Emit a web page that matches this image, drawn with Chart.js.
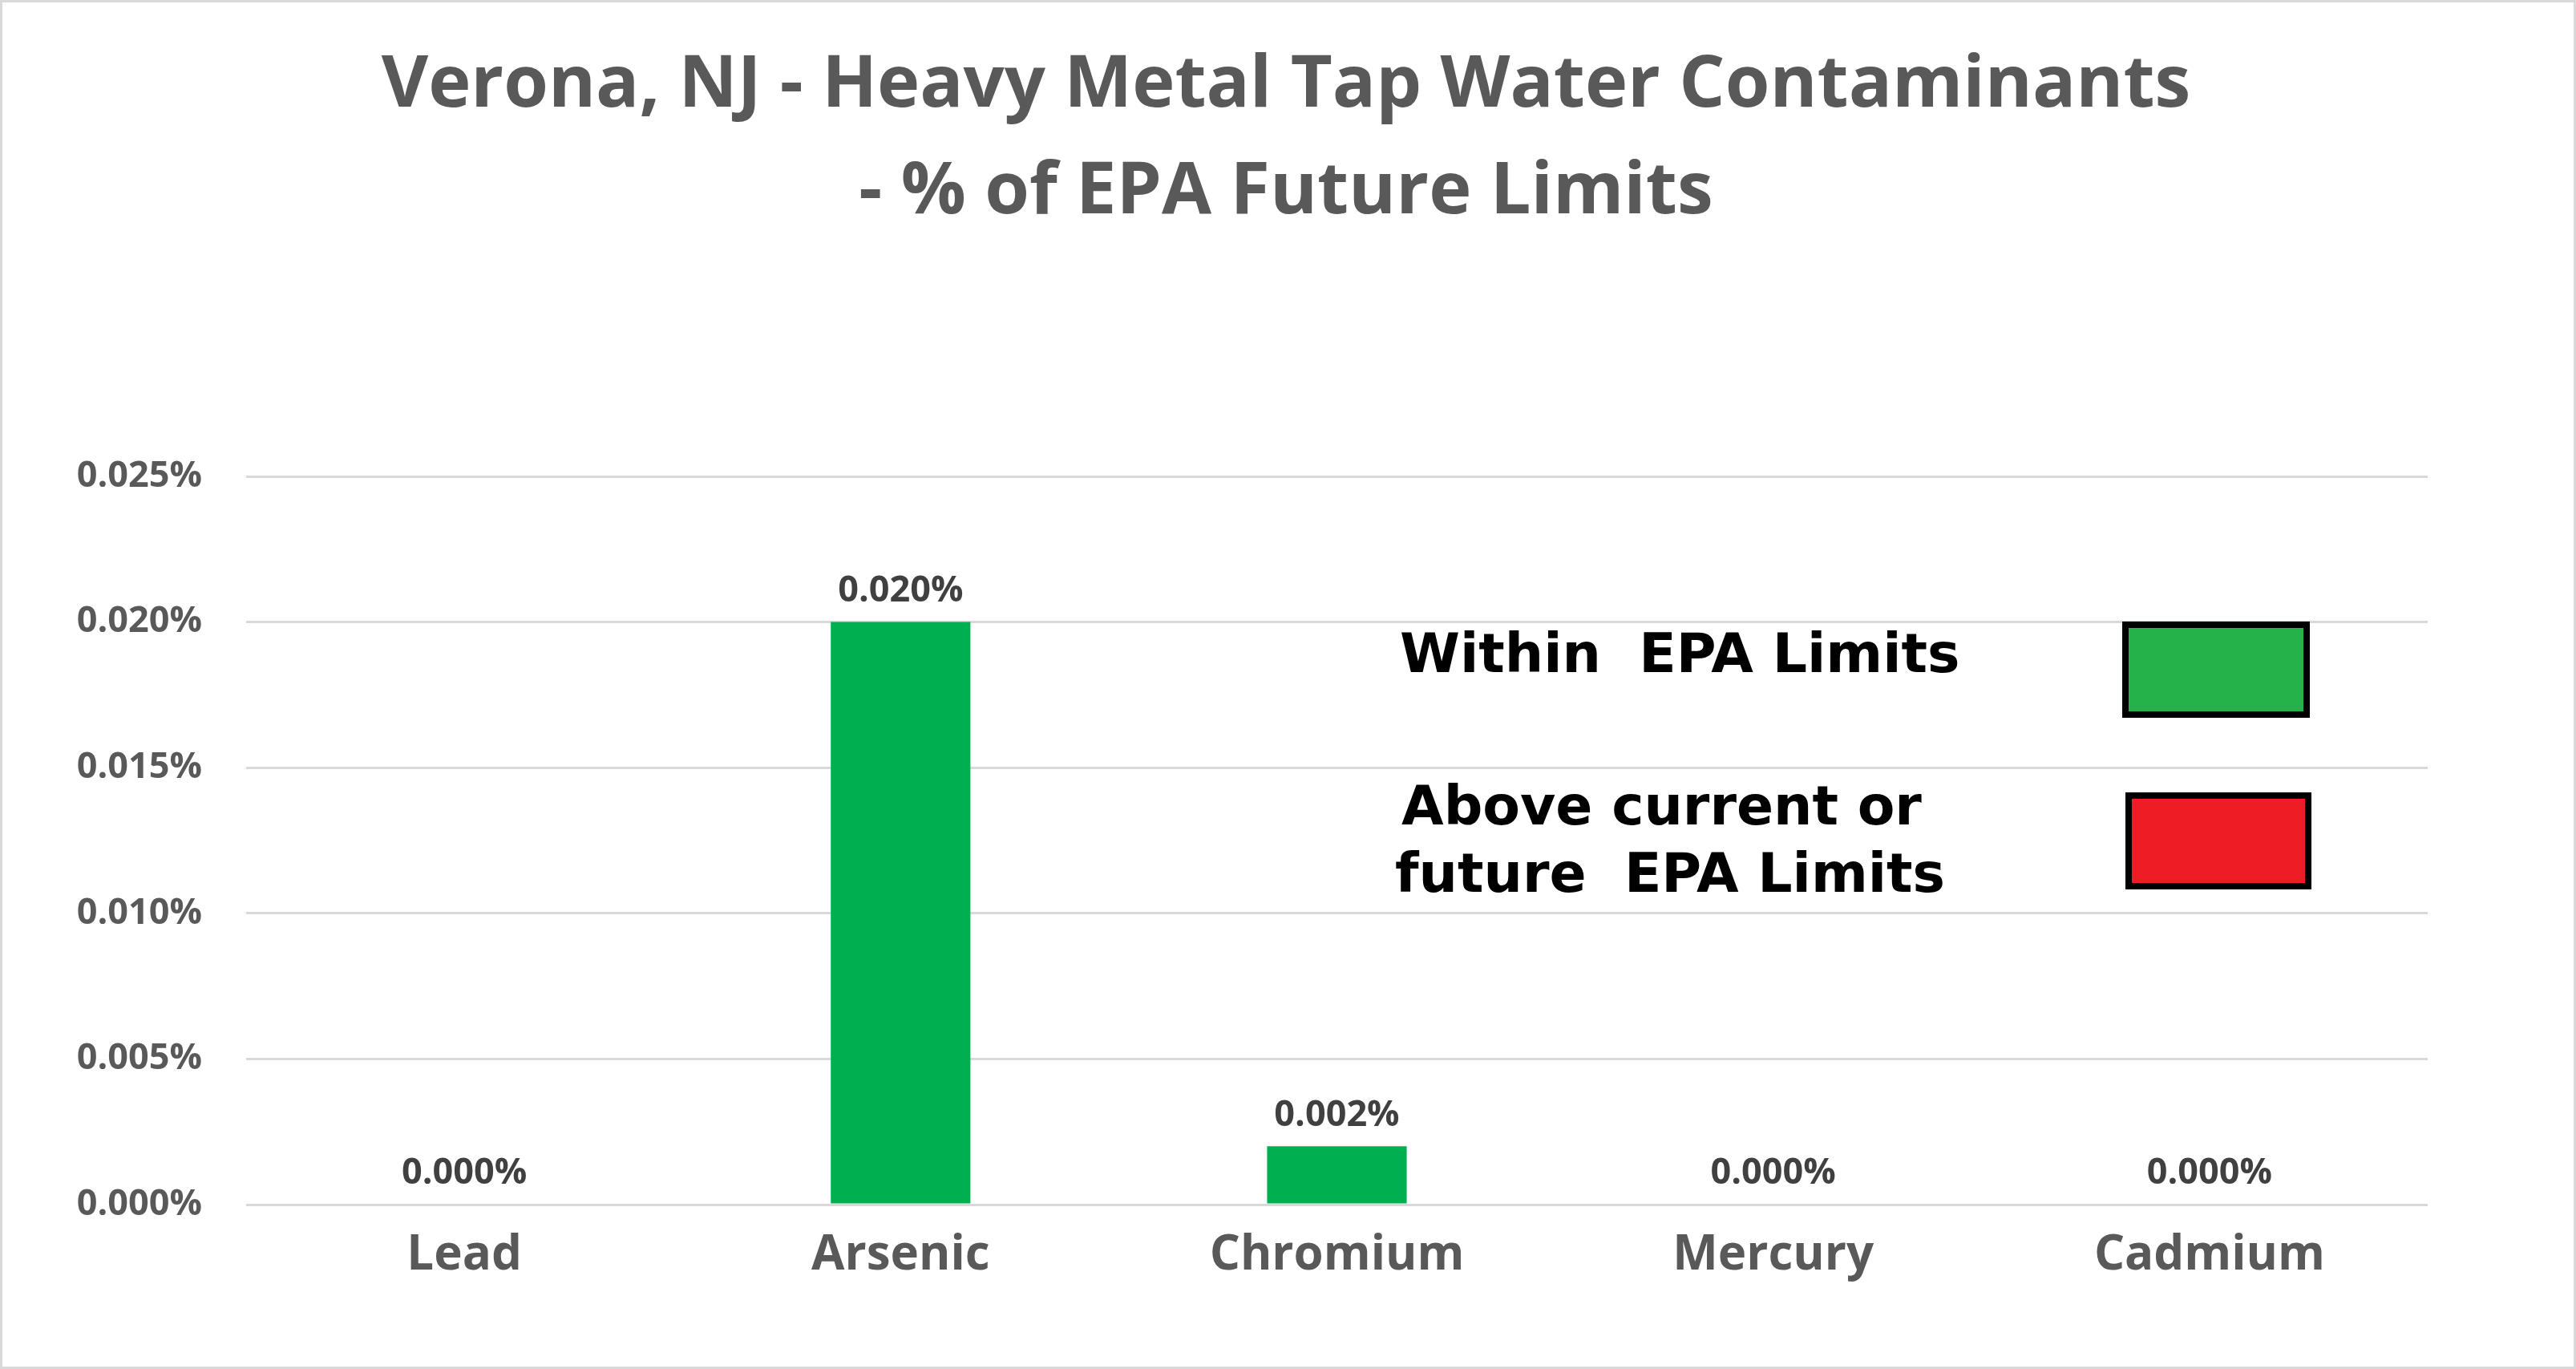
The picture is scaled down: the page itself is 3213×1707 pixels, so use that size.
<!DOCTYPE html>
<html><head><meta charset="utf-8">
<script src="https://cdn.jsdelivr.net/npm/chart.js@4"></script>
<style>html,body{margin:0;padding:0;background:#fff;}canvas{display:block;}</style>
</head><body>
<canvas id="c" width="3213" height="1707"></canvas>
<script>
const categories = ["Lead","Arsenic","Chromium","Mercury","Cadmium"];
const values = [0, 0.020, 0.002, 0, 0];
const yTicks = [0, 0.005, 0.010, 0.015, 0.020, 0.025];
const titleLines = ["Verona, NJ - Heavy Metal Tap Water Contaminants", "- % of EPA Future Limits"];
const legendItems = [
  {lines:["Within  EPA Limits"], color:"#25B24A"},
  {lines:["Above current or","future  EPA Limits"], color:"#EE1C25"}
];
const fmt = v => v.toFixed(3) + "%";

const deco = {
  id:'deco',
  beforeDraw(ch){
    const c=ch.ctx; c.save();
    c.fillStyle='#fff'; c.fillRect(0,0,ch.width,ch.height);
    c.strokeStyle='#d9d9d9'; c.lineWidth=3; c.strokeRect(1.5,1.5,ch.width-3,ch.height-3);
    c.restore();
  },
  afterDatasetsDraw(ch){
    const c=ch.ctx; c.save();
    c.fillStyle='#595959'; c.font='bold 90px "Open Sans"'; c.textAlign='center'; c.textBaseline='middle';
    c.fillText(titleLines[0],1604,107); c.fillText(titleLines[1],1604,240);
    c.fillStyle='#404040'; c.font='bold 45px "Open Sans"'; c.textBaseline='bottom';
    ch.getDatasetMeta(0).data.forEach((el,i)=>{ c.fillText(fmt(values[i]), el.x, el.y-16); });
    // legend
    c.fillStyle='#000'; c.font='bold 68px "DejaVu Sans"'; c.textAlign='left'; c.textBaseline='middle';
    c.fillText(legendItems[0].lines[0],1746,820);
    c.fillText(legendItems[1].lines[0],1748,1010);
    c.fillText(legendItems[1].lines[1],1740,1094);
    c.lineWidth=8; c.strokeStyle='#000';
    c.fillStyle=legendItems[0].color; c.fillRect(2651,779,226,112); c.strokeRect(2651,779,226,112);
    c.fillStyle=legendItems[1].color; c.fillRect(2655,992,224,113); c.strokeRect(2655,992,224,113);
    c.restore();
  }
};

new Chart(document.getElementById('c'),{
  type:'bar',
  data:{labels:categories,datasets:[{data:values,backgroundColor:'#00B050',categoryPercentage:1,barPercentage:0.32}]},
  options:{
    responsive:false, animation:false, devicePixelRatio:1,
    layout:{padding:{left:0,top:594,right:185,bottom:0}},
    plugins:{legend:{display:false},tooltip:{enabled:false}},
    scales:{
      x:{grid:{display:false},border:{display:false},
         ticks:{color:'#595959',font:{family:'Open Sans',weight:'bold',size:60},padding:20},
         afterFit(s){s.height=205;}},
      y:{min:0,max:0.025,afterBuildTicks(s){s.ticks=yTicks.map(v=>({value:v}));},
         grid:{color:'#d9d9d9',lineWidth:3,drawTicks:false},border:{display:false},
         ticks:{color:'#595959',font:{family:'Open Sans',weight:'bold',size:45},padding:55,callback:v=>fmt(v)},
         afterFit(s){s.width=307;}}
    }
  },
  plugins:[deco]
});
</script>
</body></html>
